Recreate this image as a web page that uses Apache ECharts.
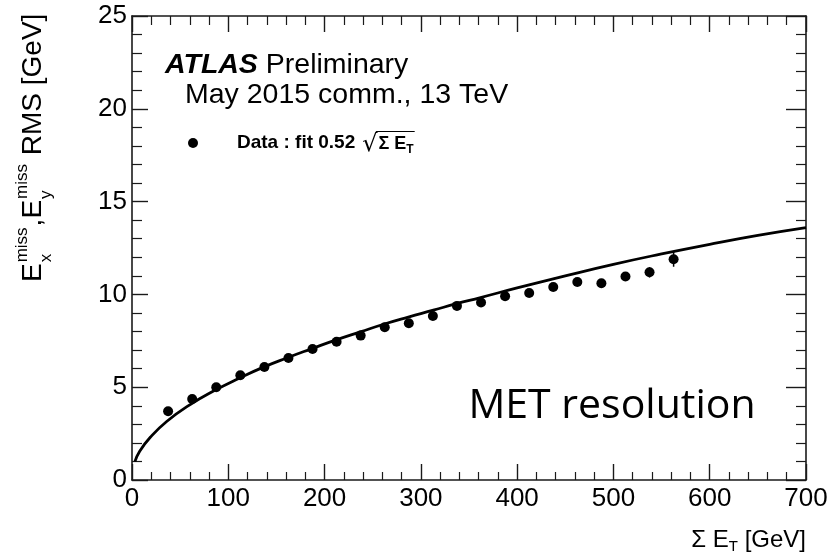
<!DOCTYPE html>
<html>
<head>
<meta charset="utf-8">
<script src="https://cdn.jsdelivr.net/npm/echarts@6/dist/echarts.min.js"></script>
<style>
  html, body { margin: 0; padding: 0; background: #fff; }
  #chart { width: 839px; height: 560px; }
</style>
</head>
<body>
<div id="chart"></div>
<script>
// Axis ticks
const xTicks = [0, 100, 200, 300, 400, 500, 600, 700];
const yTicks = [0, 5, 10, 15, 20, 25];

// Measured points: bin centre of sum E_T [GeV], MET RMS [GeV] and its uncertainty
const sumEt = [37.5, 62.5, 87.5, 112.5, 137.5, 162.5, 187.5, 212.5, 237.5, 262.5, 287.5,
               312.5, 337.5, 362.5, 387.5, 412.5, 437.5, 462.5, 487.5, 512.5, 537.5, 562.5];
const rms = [3.70, 4.36, 5.00, 5.64, 6.09, 6.57, 7.06, 7.45, 7.78, 8.23, 8.45,
             8.84, 9.38, 9.56, 9.90, 10.08, 10.40, 10.67, 10.60, 10.96, 11.19, 11.89];
const rmsErr = [0.05, 0.05, 0.05, 0.05, 0.06, 0.06, 0.07, 0.07, 0.08, 0.08, 0.09,
                0.10, 0.10, 0.11, 0.12, 0.13, 0.14, 0.16, 0.18, 0.22, 0.28, 0.40];

// Fitted resolution curve, sampled along sum E_T
const fitSumEt = [3, 8, 19, 36, 60, 86, 112, 136, 162, 187, 212, 237, 263, 287, 313, 337,
                  362, 400, 450, 500, 550, 600, 650, 700];
const fitRms = [0.99, 1.55, 2.30, 3.15, 4.05, 4.83, 5.50, 6.07, 6.60, 7.08, 7.55, 7.98, 8.42,
                8.78, 9.15, 9.50, 9.83, 10.35, 11.00, 11.62, 12.18, 12.70, 13.18, 13.60];

const SANS = '"Liberation Sans", Arial, Helvetica, sans-serif';
const INK = '#000';
const FRAME = '#1a1a1a';

const measureCtx = document.createElement('canvas').getContext('2d');
function tw(text, font) { measureCtx.font = font; return measureCtx.measureText(text).width; }
function txt(x, y, text, font, align) {
  return { type: 'text', x: x, y: y, silent: true,
    style: { text: text, font: font, fill: INK, textAlign: align || 'left', textVerticalAlign: 'middle' } };
}

const graphics = [];

// Experiment label
const fBI = 'italic bold 28.5px ' + SANS;
const f28 = '28.5px ' + SANS;
graphics.push(txt(165, 65, 'ATLAS', fBI));
graphics.push(txt(165 + tw('ATLAS', fBI) + tw(' ', f28), 65, 'Preliminary', f28));
graphics.push(txt(185, 95, 'May 2015 comm., 13 TeV', f28));

// Legend entry
graphics.push({ type: 'circle', silent: true, shape: { cx: 193, cy: 143, r: 5 }, style: { fill: INK } });
const fLeg = 'bold 19px ' + SANS;
const legText = 'Data : fit 0.52';
graphics.push(txt(237, 143, legText, fLeg));
let lx = 237 + tw(legText, fLeg) + 7;
const fRoot = '24px "DejaVu Sans", ' + SANS;
graphics.push(txt(lx, 145, '\u221A', fRoot));
const rootW = tw('\u221A', fRoot);
const fSig = 'bold 18px ' + SANS;
const fSub = 'bold 12px ' + SANS;
let sx = lx + rootW + 1;
graphics.push(txt(sx, 144, '\u03A3 E', fSig));
sx += tw('\u03A3 E', fSig);
graphics.push(txt(sx, 150, 'T', fSub));
sx += tw('T', fSub) + 1;
graphics.push({ type: 'line', silent: true,
  shape: { x1: lx + rootW - 1.5, y1: 131.5, x2: sx, y2: 131.5 }, style: { stroke: INK, lineWidth: 1 } });

// Panel caption
graphics.push(txt(612, 406, 'MET resolution', '41px "Open Sans", "Noto Sans", sans-serif', 'center'));

// X axis title: Σ E_T [GeV], right aligned to the frame
const fX = '24px ' + SANS, fXs = '15px ' + SANS;
const xEnd = 806;
const x1 = xEnd - tw(' [GeV]', fX);
const xT = x1 - tw('T', fXs);
const xSE = xT - tw('\u03A3 E', fX);
graphics.push(txt(xSE, 540, '\u03A3 E', fX));
graphics.push(txt(xT, 547, 'T', fXs));
graphics.push(txt(x1, 540, ' [GeV]', fX));

// Y axis title: E_x^miss, E_y^miss RMS [GeV], drawn along the left edge
const fY = '28px ' + SANS, fYs = '17px ' + SANS;
const yt = [];
let px = 0;
function sym(letter, sub) {
  yt.push(txt(px, -10, letter, fY));
  px += tw(letter, fY) + 1;
  yt.push(txt(px, -21, 'miss', fYs));
  yt.push(txt(px, 3, sub, fYs));
  px += Math.max(tw('miss', fYs), tw(sub, fYs)) + 1;
}
sym('E', 'x');
yt.push(txt(px, -10, ',', fY));
px += tw(',', fY);
sym('E', 'y');
yt.push(txt(px, -10, ' RMS [GeV]', fY));
graphics.push({ type: 'group', x: 43, y: 282, rotation: Math.PI / 2, children: yt });

const lineStyle = { color: FRAME, width: 1.6 };
function makeAxis(ticks, position, showLabel, majorLen, minorLen) {
  return {
    type: 'value',
    position: position,
    min: ticks[0],
    max: ticks[ticks.length - 1],
    interval: ticks[1] - ticks[0],
    axisLine: { show: true, onZero: false, lineStyle: lineStyle },
    axisTick: { show: true, inside: true, length: majorLen, lineStyle: { color: FRAME, width: 1.4 } },
    minorTick: { show: true, splitNumber: 5, length: minorLen, lineStyle: { color: FRAME, width: 1.2 } },
    splitLine: { show: false },
    minorSplitLine: { show: false },
    axisLabel: { show: showLabel, color: INK, fontFamily: SANS, fontSize: 26,
                 margin: position === 'left' ? 5 : 6 }
  };
}

const chart = echarts.init(document.getElementById('chart'), null, { renderer: 'canvas' });
chart.setOption({
  animation: false,
  backgroundColor: '#fff',
  grid: { left: 132, right: 33, top: 16, bottom: 80, containLabel: false },
  xAxis: [makeAxis(xTicks, 'bottom', true, 16, 8), makeAxis(xTicks, 'top', false, 16, 9)],
  yAxis: [makeAxis(yTicks, 'left', true, 16, 10), makeAxis(yTicks, 'right', false, 20, 10)],
  graphic: graphics,
  series: [
    {
      type: 'line',
      name: 'fit',
      data: fitSumEt.map((x, i) => [x, fitRms[i]]),
      smooth: true,
      showSymbol: false,
      lineStyle: { color: INK, width: 2.8 },
      z: 2
    },
    {
      type: 'custom',
      name: 'error',
      data: sumEt.map((x, i) => [x, rms[i] - rmsErr[i], rms[i] + rmsErr[i]]),
      encode: { x: 0, y: [1, 2] },
      renderItem: function (params, api) {
        const a = api.coord([api.value(0), api.value(1)]);
        const b = api.coord([api.value(0), api.value(2)]);
        return { type: 'line', shape: { x1: a[0], y1: a[1], x2: b[0], y2: b[1] },
                 style: { stroke: INK, lineWidth: 1.5 } };
      },
      z: 3
    },
    {
      type: 'scatter',
      name: 'Data',
      data: sumEt.map((x, i) => [x, rms[i]]),
      symbol: 'circle',
      symbolSize: 10,
      itemStyle: { color: INK, opacity: 1 },
      z: 4
    }
  ]
});
</script>
</body>
</html>
